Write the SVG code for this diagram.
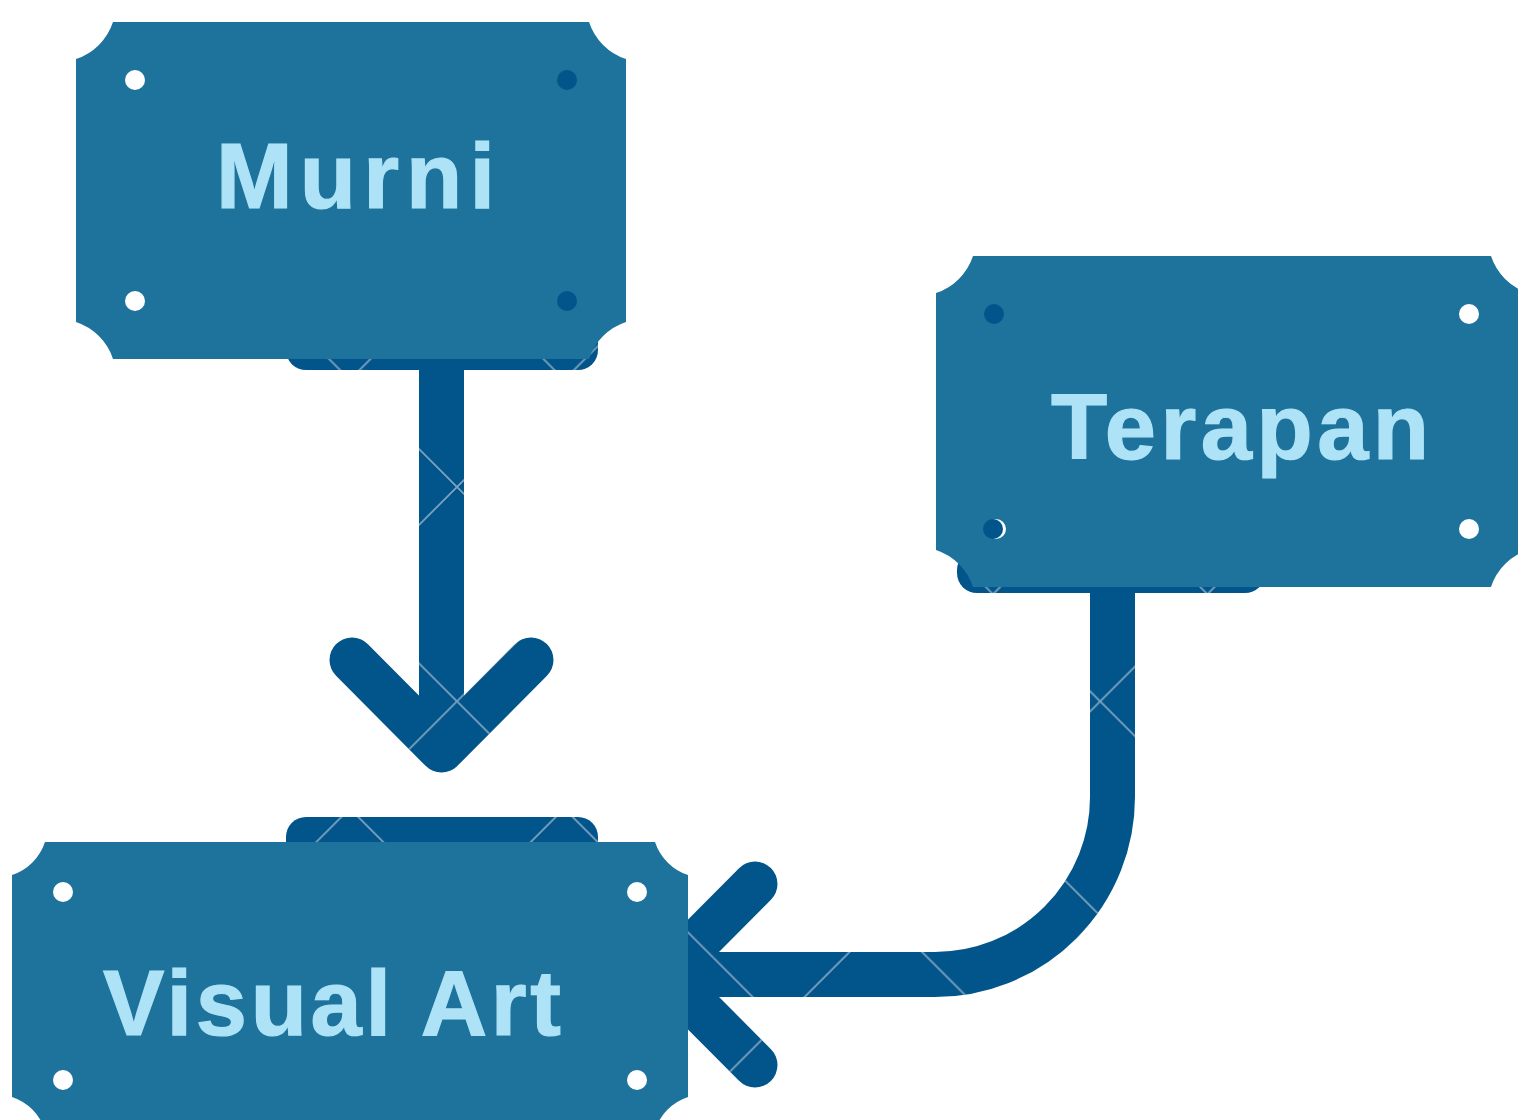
<svg xmlns="http://www.w3.org/2000/svg" width="1518" height="1120" viewBox="0 0 1518 1120">
  <defs>
    <pattern id="hatch" patternUnits="userSpaceOnUse" x="28.2" y="58.2" width="214.4" height="214.4">
      <path d="M-214.4,-214.4 L428.8,428.8 M0,-214.4 L428.8,214.4 M-214.4,0 L214.4,428.8 M428.8,-214.4 L-214.4,428.8 M214.4,-214.4 L-214.4,214.4 M428.8,0 L0,428.8" stroke="#0b3f66" stroke-width="2.2" stroke-opacity="0.35" transform="translate(0,1.4)"/>
      <path d="M-214.4,-214.4 L428.8,428.8 M0,-214.4 L428.8,214.4 M-214.4,0 L214.4,428.8 M428.8,-214.4 L-214.4,428.8 M214.4,-214.4 L-214.4,214.4 M428.8,0 L0,428.8" stroke="#8db5d2" stroke-width="1.8" stroke-opacity="0.85"/>
    </pattern>
    <style>
      .node { fill: #1e739c; }
      .lbl { font-family: "Liberation Sans", Arial, sans-serif; font-weight: bold; font-size: 92px; fill: #aee3f7; stroke: #aee3f7; stroke-width: 1.2px; }
      .dw { fill: #ffffff; }
      .dd { fill: #02558a; }
      .line { fill: none; stroke: #02558a; stroke-width: 45; stroke-linejoin: round; }
      .lineh { fill: none; stroke: url(#hatch); stroke-width: 45; stroke-linejoin: round; }
      .cap { stroke-linecap: round; }
      .tab { fill: #02558a; }
      .tabh { fill: url(#hatch); }
    </style>
  </defs>

  <g id="connectors">
    <g id="edge-murni-visual">
      <rect class="tab" x="286" y="320" width="312" height="50" rx="20"/>
      <rect class="tabh" x="286" y="320" width="312" height="50" rx="20"/>
      <rect class="tab" x="286" y="817" width="312" height="60" rx="20"/>
      <rect class="tabh" x="286" y="817" width="312" height="60" rx="20"/>
      <path class="line" d="M441.5,370 V740"/>
      <path class="lineh" d="M441.5,370 V740"/>
      <path class="line cap" d="M352,660 L441.5,750 L531,660"/>
      <path class="lineh cap" d="M352,660 L441.5,750 L531,660"/>
    </g>
    <g id="edge-terapan-visual">
      <rect class="tab" x="957" y="550" width="308" height="43" rx="20"/>
      <rect class="tabh" x="957" y="550" width="308" height="43" rx="20"/>
      <path class="line" d="M1112.5,593 V797 A177.5,177.5 0 0 1 935,974.5 H675"/>
      <path class="lineh" d="M1112.5,593 V797 A177.5,177.5 0 0 1 935,974.5 H675"/>
      <path class="line cap" d="M755,884 L665,974.5 L755,1065"/>
      <path class="lineh cap" d="M755,884 L665,974.5 L755,1065"/>
    </g>
  </g>

  <g id="node-murni">
    <path class="node" d="M113,22 H589 A58,58 0 0 0 626,59 V322 A58,58 0 0 0 589,359 H113 A58,58 0 0 0 76,322 V59 A58,58 0 0 0 113,22 Z"/>
    <circle class="dw" cx="135" cy="80" r="10"/>
    <circle class="dd" cx="567" cy="80" r="10"/>
    <circle class="dw" cx="135" cy="301" r="10"/>
    <circle class="dd" cx="567" cy="301" r="10"/>
    <text class="lbl" x="216" y="208" textLength="279" lengthAdjust="spacing">Murni</text>
  </g>

  <g id="node-terapan">
    <path class="node" d="M973,256 H1491 A58,58 0 0 0 1528,293 V550 A58,58 0 0 0 1491,587 H973 A58,58 0 0 0 936,550 V293 A58,58 0 0 0 973,256 Z"/>
    <circle class="dd" cx="994" cy="314" r="10"/>
    <circle class="dw" cx="1469" cy="314" r="10"/>
    <circle class="dw" cx="996" cy="529" r="10"/>
    <circle class="dd" cx="993" cy="529" r="10"/>
    <circle class="dw" cx="1469" cy="529" r="10"/>
    <text class="lbl" x="1051" y="459" textLength="378" lengthAdjust="spacing">Terapan</text>
  </g>

  <g id="node-visual-art">
    <path class="node" d="M45,842 H655 A52,52 0 0 0 688,875 V1097 A52,52 0 0 0 655,1130 H45 A52,52 0 0 0 12,1097 V875 A52,52 0 0 0 45,842 Z"/>
    <circle class="dw" cx="63" cy="892" r="10"/>
    <circle class="dw" cx="637" cy="892" r="10"/>
    <circle class="dw" cx="63" cy="1080" r="10"/>
    <circle class="dw" cx="637" cy="1080" r="10"/>
    <text class="lbl" x="103" y="1035" textLength="458" lengthAdjust="spacing">Visual Art</text>
  </g>
</svg>
